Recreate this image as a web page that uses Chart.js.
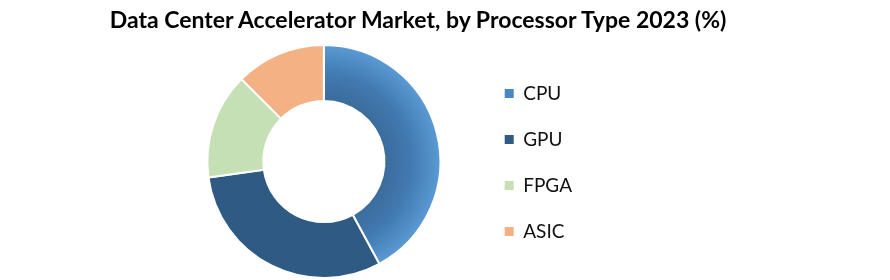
<!DOCTYPE html>
<html>
<head>
<meta charset="utf-8">
<script src="https://cdn.jsdelivr.net/npm/chart.js@4.4.1/dist/chart.umd.min.js"></script>
<style>
  html, body { margin: 0; padding: 0; background: #fff; }
  #wrap { position: relative; width: 890px; height: 280px; }
  #title {
    position: absolute; left: 0; width: 836px; top: 5px;
    text-align: center; white-space: nowrap;
    font: bold 23px/28px Lato, sans-serif; color: #000;
  }
</style>
</head>
<body>
<div id="wrap">
  <canvas id="chart"></canvas>
  <div id="title"></div>
</div>
<script>
'use strict';
const TITLE = 'Data Center Accelerator Market, by Processor Type 2023 (%)';
const LABELS = ['CPU', 'GPU', 'FPGA', 'ASIC'];
const SHARES = [42.1, 30.7, 14.7, 12.5];
const COLORS = ['#4a86c2', '#2e5a84', '#c5e0b4', '#f4b183'];
const CUTOUT = 0.52;

document.getElementById('title').textContent = TITLE;

// CPU slice has a radial shade: darker near the hole, lighter at the rim
function sliceColor(ctx) {
  const i = ctx.dataIndex;
  if (i !== 0) return COLORS[i];
  const area = ctx.chart.chartArea;
  if (!area) return COLORS[0];
  const cx = (area.left + area.right) / 2, cy = (area.top + area.bottom) / 2;
  const outer = Math.min(area.right - area.left, area.bottom - area.top) / 2;
  const g = ctx.chart.ctx.createRadialGradient(cx, cy, outer * CUTOUT, cx, cy, outer);
  g.addColorStop(0, '#3b6c9c');
  g.addColorStop(0.45, '#4179b0');
  g.addColorStop(1, '#5b9bd5');
  return g;
}

new Chart(document.getElementById('chart'), {
  type: 'doughnut',
  data: {
    labels: LABELS,
    datasets: [{
      data: SHARES,
      backgroundColor: sliceColor,
      borderColor: '#ffffff',
      borderWidth: 2,
    }],
  },
  options: {
    responsive: true, maintainAspectRatio: false,
    animation: false,
    cutout: (CUTOUT * 100) + '%',
    layout: { padding: { top: 44, bottom: 1, left: 170, right: 308 } },
    plugins: {
      title: { display: false },
      legend: {
        position: 'right',
        align: 'start',
        title: { display: true, text: ' ', font: { size: 10, lineHeight: 1.3 }, padding: 0 },
        labels: {
          color: '#111',
          font: { family: 'Lato', size: 19 },
          boxWidth: 9, boxHeight: 9,
          padding: 27,
          generateLabels: chart => LABELS.map((l, i) => ({
            text: l, fillStyle: COLORS[i], strokeStyle: COLORS[i], fontColor: '#111',
            lineWidth: 0, index: i,
          })),
        },
      },
      tooltip: { enabled: false },
    },
  },
});
</script>
</body>
</html>
